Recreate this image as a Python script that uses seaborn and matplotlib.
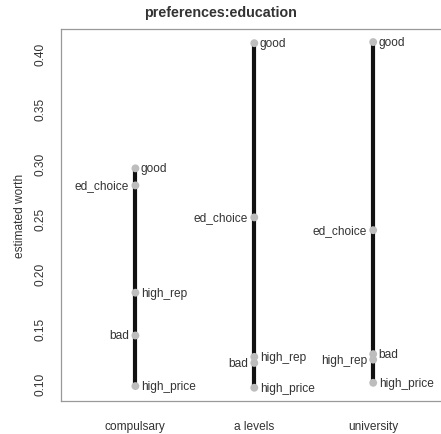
import matplotlib
matplotlib.use("Agg")
import matplotlib.pyplot as plt
import seaborn as sns
import pandas as pd
import numpy as np

categories = ["compulsary", "a levels", "university"]
items = ["good", "ed_choice", "high_rep", "bad", "high_price"]
compulsary = [0.2955, 0.280, 0.1827, 0.1439, 0.098]
a_levels = [0.409, 0.251, 0.1245, 0.119, 0.0965]
university = [0.410, 0.2394, 0.122, 0.127, 0.101]

values = {"compulsary": compulsary, "a levels": a_levels, "university": university}
rows = []
for i, c in enumerate(categories):
    for it, v in zip(items, values[c]):
        rows.append({"category": c, "pos": i + 1, "item": it, "worth": v})
df = pd.DataFrame(rows)

sns.set_style("white")
plt.rcParams["font.family"] = ["Liberation Sans", "DejaVu Sans"]

FS = 8.6
fig = plt.figure(figsize=(4.41, 4.35), dpi=100)
ax = fig.add_axes([0.138, 0.0759, 0.87, 0.855])

# vertical range lines
for i, c in enumerate(categories):
    vals = values[c]
    ax.vlines(i + 1, min(vals), max(vals), color="#111111", linewidth=3.0, zorder=1)

sns.scatterplot(data=df, x="pos", y="worth", color="#bdbdbd", s=32,
                edgecolor="none", ax=ax, zorder=2, legend=False)

# labels alternating right/left by descending value
for i, c in enumerate(categories):
    sub = df[df["category"] == c].sort_values("worth", ascending=False)
    for k, (_, r) in enumerate(sub.iterrows()):
        if k % 2 == 0:
            ax.annotate(r["item"], (r["pos"], r["worth"]), xytext=(4, 0),
                        textcoords="offset points", ha="left", va="center",
                        fontsize=FS, color="#333333")
        else:
            ax.annotate(r["item"], (r["pos"], r["worth"]), xytext=(-4.5, 0),
                        textcoords="offset points", ha="right", va="center",
                        fontsize=FS, color="#333333")

ax.set_xlim(0.373, 3.6)
ax.set_ylim(0.0845, 0.4218)
ax.set_xticks([1, 2, 3])
ax.set_xticklabels(categories)
yt = [0.10, 0.15, 0.20, 0.25, 0.30, 0.35, 0.40]
ax.set_yticks(yt)
ax.set_yticklabels([f"{t:.2f}" for t in yt], rotation=90, va="center")
ax.tick_params(axis="both", which="both", length=5, width=0.8, color="#888888",
               labelsize=FS, labelcolor="#333333", direction="out")
ax.tick_params(axis="x", pad=8.5)
ax.tick_params(axis="y", pad=5.5)
for s in ["left", "top", "bottom"]:
    ax.spines[s].set_color("#999999")
    ax.spines[s].set_linewidth(0.9)
ax.spines["right"].set_visible(False)
ax.set_xlabel("")
ax.set_ylabel("estimated worth", fontsize=FS, color="#333333", labelpad=6)
fig.suptitle("preferences:education", fontsize=10.3, fontweight="bold",
             color="#333333", y=0.986)

fig.savefig("out.png", dpi=100)
